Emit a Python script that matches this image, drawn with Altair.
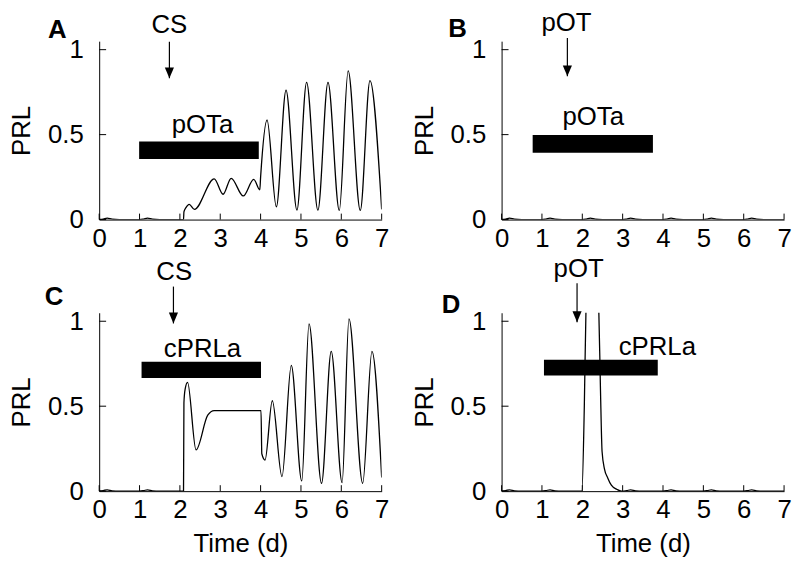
import altair as alt
import pandas as pd

# ---------------- data ----------------
X_TICKS = [0, 1, 2, 3, 4, 5, 6, 7]
Y_TICKS = [0, 0.5, 1]

A_time = [0.0, 0.1, 0.2, 0.32, 0.5, 1.0, 1.1, 1.2, 1.32, 1.5, 2.09, 2.1, 2.15, 2.23, 2.36,
          2.85, 3.07, 3.27, 3.57, 3.83, 3.98, 4.0, 4.16, 4.39, 4.63, 4.9, 5.14, 5.42, 5.67,
          5.95, 6.17, 6.47, 6.71, 7.0]
A_prl = [0.001, 0.003, 0.008, 0.002, 0.0, 0.0, 0.003, 0.008, 0.002, 0.0, 0.0, 0.045, 0.07, 0.09, 0.06,
         0.24, 0.149, 0.243, 0.139, 0.237, 0.175, 0.25, 0.586, 0.075, 0.762, 0.056, 0.808, 0.056, 0.808,
         0.054, 0.875, 0.054, 0.818, 0.06]

B_time = [0.0, 0.1, 0.2, 0.32, 0.5, 1.0, 1.1, 1.2, 1.32, 1.5, 2.0, 2.1, 2.2, 2.32, 2.5,
          3.0, 3.1, 3.2, 3.32, 3.5, 4.0, 4.1, 4.2, 4.32, 4.5, 5.0, 5.1, 5.2, 5.32, 5.5,
          6.0, 6.1, 6.2, 6.32, 6.5, 7.0]
B_prl = [0.001, 0.003, 0.008, 0.002, 0.0, 0.0, 0.003, 0.008, 0.002, 0.0, 0.0, 0.003, 0.008, 0.002, 0.0,
         0.0, 0.003, 0.008, 0.002, 0.0, 0.0, 0.003, 0.008, 0.002, 0.0, 0.0, 0.003, 0.008, 0.002, 0.0,
         0.0, 0.003, 0.008, 0.002, 0.0, 0.0]

C_time = [0.0, 0.1, 0.2, 0.32, 0.5, 1.0, 1.1, 1.2, 1.32, 1.5, 2.09, 2.1, 2.13, 2.19, 2.40,
          2.69, 2.85, 4.01, 4.03, 4.11, 4.29, 4.53, 4.76, 5.02, 5.20, 5.51, 5.75, 6.02, 6.19,
          6.53, 6.76, 7.0]
C_prl = [0.001, 0.003, 0.008, 0.002, 0.0, 0.0, 0.003, 0.008, 0.002, 0.0, 0.0, 0.52, 0.6, 0.64, 0.243,
         0.447, 0.474, 0.474, 0.22, 0.183, 0.532, 0.085, 0.74, 0.06, 0.985, 0.046, 0.823, 0.05, 1.014,
         0.046, 0.823, 0.08]

D_time = [0.0, 0.1, 0.2, 0.32, 0.5, 1.0, 1.1, 1.2, 1.32, 1.5, 1.99, 2.05, 2.09, 2.25, 2.41,
          2.45, 2.49, 2.55, 2.63, 2.72, 2.86, 2.97, 3.1, 3.2, 3.32, 3.5, 4.0, 4.1, 4.2, 4.32,
          4.5, 5.0, 5.1, 5.2, 5.32, 5.5, 6.0, 6.1, 6.2, 6.32, 6.5, 7.0]
D_prl = [0.001, 0.003, 0.008, 0.002, 0.0, 0.0, 0.003, 0.008, 0.002, 0.0, 0.0, 0.5, 1.05, 1.6, 1.05,
         0.6, 0.233, 0.13, 0.078, 0.035, 0.01, 0.0, 0.003, 0.008, 0.002, 0.0, 0.0, 0.003, 0.008, 0.002,
         0.0, 0.0, 0.003, 0.008, 0.002, 0.0, 0.0, 0.003, 0.008, 0.002, 0.0, 0.0]

LETTERS = ["A", "B", "C", "D"]
LETTER_T = [-1.04, -1.09, -1.12, -1.25]
LETTER_V = [1.068, 1.074, 1.097, 1.048]

BAR_START = [0.99, 0.77, 1.05, 1.05]
BAR_END = [3.955, 3.75, 4.01, 3.87]
BAR_LOW = [0.357, 0.394, 0.666, 0.68]
BAR_HIGH = [0.459, 0.498, 0.761, 0.773]
BAR_LABEL = ["pOTa", "pOTa", "cPRLa", "cPRLa"]
BAR_LABEL_T = [2.56, 2.27, 2.56, 3.86]
BAR_LABEL_V = [0.509, 0.559, 0.792, 0.80]

ARROW_LABEL = ["CS", "pOT", "CS", "pOT"]
ARROW_T = [1.74, 1.63, 1.84, 1.87]
ARROW_TOP = [1.047, 1.068, 1.204, 1.223]
ARROW_TIP = [0.831, 0.843, 0.987, 0.994]
ARROW_LABEL_T = [1.74, 1.61, 1.86, 1.91]
ARROW_LABEL_V = [1.098, 1.107, 1.243, 1.262]

SERIES = [(A_time, A_prl), (B_time, B_prl), (C_time, C_prl), (D_time, D_prl)]

# ---------------- styling ----------------
FONT = "Liberation Sans"
FS = 26
W, H = 285, 180
YMAX = 1.05


def panel(i):
    show_xtitle = i >= 2
    xs = alt.Scale(domain=[0, 7], nice=False, zero=False)
    ys = alt.Scale(domain=[0, YMAX], nice=False, zero=False)
    xaxis = alt.Axis(values=X_TICKS, format="d", ticks=False, labelPadding=6, titlePadding=8,
                     title="Time (d)" if show_xtitle else "", labelFlush=False)
    yaxis = alt.Axis(values=Y_TICKS, format="~g", ticks=False, labelPadding=16, titlePadding=13,
                     title="PRL", labelFlush=False)

    def X(f):
        return alt.X(f, type="quantitative", scale=xs, axis=xaxis)

    def Y(f):
        return alt.Y(f, type="quantitative", scale=ys, axis=yaxis)

    t, v = SERIES[i]
    curve_df = pd.DataFrame({"t": t, "v": v})
    curve = alt.Chart(curve_df).mark_line(
        color="black", strokeWidth=1.3, interpolate="monotone", clip=True
    ).encode(x=X("t"), y=Y("v"))

    xt = alt.Chart(pd.DataFrame({"t": X_TICKS})).mark_rule(color="black", strokeWidth=1).encode(
        x=X("t"), y=alt.value(H), y2=alt.value(H - 6))
    yt = alt.Chart(pd.DataFrame({"v": Y_TICKS})).mark_rule(color="black", strokeWidth=1).encode(
        y=Y("v"), x=alt.value(0), x2=alt.value(7))

    bar_df = pd.DataFrame({"t": [BAR_START[i]], "t2": [BAR_END[i]],
                           "v": [BAR_LOW[i]], "v2": [BAR_HIGH[i]]})
    bar = alt.Chart(bar_df).mark_rect(color="black").encode(
        x=X("t"), x2="t2", y=Y("v"), y2="v2")

    texts_df = pd.DataFrame({
        "t": [BAR_LABEL_T[i], ARROW_LABEL_T[i]],
        "v": [BAR_LABEL_V[i], ARROW_LABEL_V[i]],
        "label": [BAR_LABEL[i], ARROW_LABEL[i]],
    })
    texts = alt.Chart(texts_df).mark_text(
        font=FONT, fontSize=FS, color="black", align="center", baseline="alphabetic", clip=False
    ).encode(x=X("t"), y=Y("v"), text="label:N")

    letter_df = pd.DataFrame({"t": [LETTER_T[i]], "v": [LETTER_V[i]], "label": [LETTERS[i]]})
    letter = alt.Chart(letter_df).mark_text(
        font=FONT, fontSize=FS, fontWeight="bold", color="black", align="center",
        baseline="alphabetic", clip=False
    ).encode(x=X("t"), y=Y("v"), text="label:N")

    arrow_df = pd.DataFrame({"t": [ARROW_T[i]], "v": [ARROW_TOP[i]], "v2": [ARROW_TIP[i]]})
    shaft = alt.Chart(arrow_df).mark_rule(color="black", strokeWidth=1.2, clip=False).encode(
        x=X("t"), y=Y("v"), y2="v2")
    head_df = pd.DataFrame({"t": [ARROW_T[i]], "v": [ARROW_TIP[i]]})
    head = alt.Chart(head_df).mark_point(
        shape="M0,0 L-0.42,-1 L0.42,-1 Z", size=484, filled=True, color="black",
        opacity=1, strokeWidth=0, clip=False
    ).encode(x=X("t"), y=Y("v"))

    return alt.layer(curve, xt, yt, bar, texts, letter, shaft, head).properties(width=W, height=H)


chart = alt.concat(
    panel(0), panel(1), panel(2), panel(3),
    columns=2, spacing={"row": 94, "column": 121}, bounds="flush"
).properties(padding=0).configure_view(stroke=None).configure_axis(
    labelFont=FONT, titleFont=FONT, labelFontSize=FS, titleFontSize=FS,
    labelColor="black", titleColor="black", domainColor="black", domainWidth=1,
    grid=False, titleFontWeight="normal"
)

chart.save("out.html", embed_options={"renderer": "svg", "actions": False})
